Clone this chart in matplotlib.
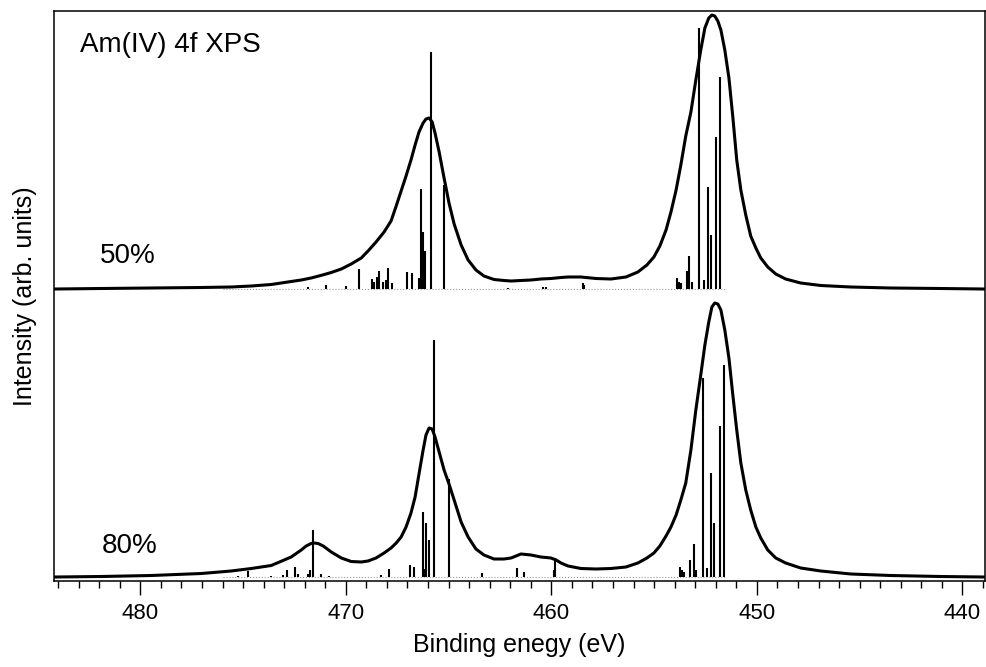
import matplotlib
matplotlib.use("Agg")
import matplotlib.pyplot as plt
from matplotlib.ticker import MultipleLocator

plt.rcParams['font.family'] = ['Liberation Sans', 'DejaVu Sans']

# stick spectra: energy (eV) and intensity
sticks50_e = [471.83, 470.96, 469.99, 469.35, 468.72, 468.62, 468.48, 468.38, 468.19,
              468.04, 467.94, 467.75, 467.02, 466.78, 466.44, 466.34, 466.24, 466.14,
              465.85, 465.22, 462.11, 460.41, 460.26, 458.46, 458.42, 453.89, 453.80,
              453.70, 453.41, 453.31, 453.16, 452.82, 452.58, 452.38, 452.23, 451.99,
              451.80]
sticks50_i = [0.02, 0.04, 0.03, 0.20, 0.10, 0.07, 0.12, 0.18, 0.07,
              0.09, 0.21, 0.06, 0.17, 0.16, 0.11, 1.00, 0.57, 0.38,
              2.37, 1.04, 0.01, 0.02, 0.02, 0.06, 0.04, 0.11, 0.07,
              0.06, 0.18, 0.33, 0.07, 2.61, 0.09, 1.02, 0.54, 1.52,
              2.12]

sticks80_e = [475.24, 474.75, 473.63, 473.05, 472.85, 472.46, 472.32, 471.83, 471.74,
              471.59, 471.20, 470.81, 468.28, 467.89, 466.87, 466.68, 466.24, 466.19,
              466.10, 465.95, 465.71, 464.98, 463.37, 461.67, 461.33, 459.87, 459.82,
              453.75, 453.65, 453.55, 453.26, 453.07, 452.97, 452.63, 452.44, 452.24,
              452.09, 451.80, 451.61]
sticks80_i = [0.01, 0.06, 0.01, 0.02, 0.07, 0.10, 0.03, 0.03, 0.07,
              0.47, 0.03, 0.01, 0.02, 0.08, 0.12, 0.10, 0.65, 0.08,
              0.54, 0.37, 2.37, 0.98, 0.04, 0.09, 0.05, 0.07, 0.19,
              0.10, 0.07, 0.05, 0.17, 0.33, 0.07, 1.99, 0.09, 1.04,
              0.54, 1.51, 2.12]

# broadened spectra (same energy grid for both)
curve_e = [484.13, 481.90, 479.47, 477.03, 475.58, 474.60, 473.63, 472.66, 472.17,
           471.93, 471.69, 471.54, 471.35, 471.10, 470.71, 470.22, 469.74, 469.25,
           468.92, 468.53, 468.14, 467.80, 467.55, 467.31, 467.07, 466.83, 466.63,
           466.44, 466.24, 466.10, 465.95, 465.80, 465.66, 465.46, 465.22, 464.98,
           464.73, 464.39, 464.05, 463.67, 463.28, 462.79, 462.31, 461.96, 461.48,
           460.99, 460.51, 460.02, 459.77, 459.53, 459.19, 458.56, 457.83, 457.10,
           456.37, 455.79, 455.35, 455.01, 454.72, 454.42, 454.18, 453.93, 453.70,
           453.46, 453.21, 452.97, 452.73, 452.53, 452.34, 452.19, 452.05, 451.90,
           451.75, 451.56, 451.36, 451.17, 450.98, 450.78, 450.54, 450.30, 450.05,
           449.81, 449.47, 449.08, 448.60, 447.87, 446.89, 445.43, 443.49, 441.06,
           438.97]
curve50_i = [0.000, 0.005, 0.010, 0.015, 0.020, 0.030, 0.045, 0.075, 0.090,
             0.100, 0.110, 0.118, 0.128, 0.142, 0.165, 0.200, 0.250, 0.310,
             0.380, 0.470, 0.570, 0.680, 0.830, 0.980, 1.130, 1.290, 1.440,
             1.570, 1.660, 1.700, 1.710, 1.670, 1.560, 1.370, 1.110, 0.860,
             0.650, 0.440, 0.290, 0.190, 0.130, 0.095, 0.085, 0.080, 0.085,
             0.090, 0.100, 0.105, 0.110, 0.115, 0.120, 0.120, 0.105, 0.100,
             0.120, 0.170, 0.240, 0.320, 0.430, 0.590, 0.770, 0.990, 1.240,
             1.530, 1.770, 2.090, 2.390, 2.610, 2.710, 2.740, 2.730, 2.680,
             2.590, 2.390, 2.110, 1.720, 1.290, 0.990, 0.740, 0.530, 0.410,
             0.310, 0.220, 0.150, 0.100, 0.060, 0.035, 0.020, 0.010, 0.005,
             0.000]
curve80_i = [0.000, 0.005, 0.015, 0.035, 0.060, 0.085, 0.115, 0.200, 0.270,
             0.310, 0.335, 0.340, 0.335, 0.310, 0.250, 0.190, 0.155, 0.150,
             0.160, 0.190, 0.240, 0.290, 0.340, 0.400, 0.500, 0.640, 0.800,
             1.030, 1.270, 1.420, 1.490, 1.480, 1.400, 1.250, 1.070, 0.930,
             0.770, 0.550, 0.400, 0.280, 0.220, 0.180, 0.180, 0.190, 0.230,
             0.220, 0.200, 0.190, 0.170, 0.140, 0.110, 0.085, 0.080, 0.085,
             0.100, 0.140, 0.190, 0.240, 0.310, 0.410, 0.500, 0.620, 0.770,
             0.940, 1.270, 1.670, 2.020, 2.320, 2.550, 2.700, 2.740, 2.730,
             2.670, 2.470, 2.190, 1.820, 1.470, 1.140, 0.870, 0.670, 0.500,
             0.390, 0.270, 0.190, 0.140, 0.090, 0.060, 0.030, 0.015, 0.005,
             0.000]

offset50 = 2.92
offset80 = 0.04

fig = plt.figure(figsize=(9.86, 6.67), dpi=100)
ax = fig.add_axes([54 / 986, 1 - 581 / 667, 931 / 986, 570 / 667])

for e, i, c_i, off in [(sticks50_e, sticks50_i, curve50_i, offset50),
                       (sticks80_e, sticks80_i, curve80_i, offset80)]:
    ax.hlines(off, 476, 451.5, colors='0.6', linestyles=':', linewidth=0.8)
    ax.vlines(e, off, [off + v for v in i], colors='black', linewidth=1.5)
    ax.plot(curve_e, [off + v for v in c_i], color='black', linewidth=2.2,
            solid_joinstyle='round')

ax.set_xlim(484.2, 438.9)
ax.set_ylim(0, 5.70)
ax.xaxis.set_major_locator(MultipleLocator(10))
ax.xaxis.set_minor_locator(MultipleLocator(1))
ax.tick_params(axis='x', which='major', direction='out', length=10, width=1, labelsize=16, pad=6)
ax.tick_params(axis='x', which='minor', direction='out', length=5, width=1)
ax.set_yticks([])
for s in ax.spines.values():
    s.set_linewidth(1.1)

ax.set_xlabel("Binding enegy (eV)", fontsize=18, labelpad=6)
ax.set_ylabel("Intensity (arb. units)", fontsize=18, labelpad=12)

fig.text(80 / 986, 1 - 52 / 667, "Am(IV) 4f XPS", fontsize=20, va='baseline')
fig.text(100 / 986, 1 - 263 / 667, "50%", fontsize=20, va='baseline')
fig.text(102 / 986, 1 - 553 / 667, "80%", fontsize=20, va='baseline')

fig.savefig("out.png", dpi=100)
